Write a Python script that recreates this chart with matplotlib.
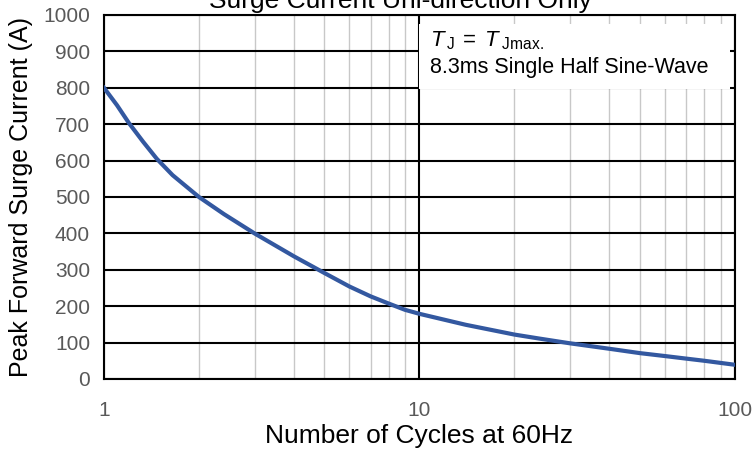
import matplotlib
matplotlib.use("Agg")
import matplotlib.pyplot as plt
from matplotlib.patches import Rectangle
from matplotlib.ticker import FixedLocator, NullFormatter

plt.rcParams['font.family'] = ['Liberation Sans', 'DejaVu Sans']
plt.rcParams['mathtext.fontset'] = 'custom'
plt.rcParams['mathtext.rm'] = 'Liberation Sans'
plt.rcParams['mathtext.it'] = 'Liberation Sans:italic'

# surge current curve
cycles = [1, 1.1, 1.2, 1.33, 1.47, 1.65, 2, 2.4, 3, 4, 5, 6, 7, 8, 9, 10,
          14, 20, 24, 30, 40, 50, 60, 70, 80, 100]
current = [800, 752, 703, 652, 605, 560, 500, 453, 400, 337, 291, 254, 227, 207, 190, 179,
           149, 122, 111, 98, 83, 71, 63, 56, 50, 39]

x_ticks = [1, 10, 100]
x_ticklabels = ['1', '10', '100']
y_ticks = list(range(0, 1001, 100))

fig = plt.figure(figsize=(7.55, 4.5), dpi=100)
ax = fig.add_axes([0.1377, 0.1578, 0.8358, 0.8089])

ax.set_xscale('log')
ax.set_xlim(1, 100)
ax.set_ylim(0, 1000)

minor = [m * d for d in (1, 10) for m in range(2, 10)]
ax.xaxis.set_major_locator(FixedLocator(x_ticks))
ax.xaxis.set_minor_locator(FixedLocator(minor))
ax.xaxis.set_minor_formatter(NullFormatter())
ax.set_xticklabels(x_ticklabels)
ax.set_yticks(y_ticks)

ax.grid(True, which='minor', axis='x', color='#c8c8c8', lw=1.0)
ax.grid(True, which='major', axis='x', color='black', lw=1.5)
ax.grid(True, which='major', axis='y', color='black', lw=1.5)
ax.set_axisbelow(True)

ax.tick_params(which='both', length=0)
ax.tick_params(axis='x', pad=16, labelsize=15, labelcolor='#595959')
ax.tick_params(axis='y', pad=10, labelsize=15, labelcolor='#595959')
for s in ax.spines.values():
    s.set_linewidth(1.5)
    s.set_color('black')

# white text box over the gridlines
ax.add_patch(Rectangle((10, 796), 86.5, 180, facecolor='white', edgecolor='none', zorder=1.5))

ax.plot(cycles, current, color='#3358a0', lw=3, zorder=3, solid_joinstyle='round')

ax.text(10.78, 913, r'$T\,_{\mathrm{J}}\/ =\ T\,_{\mathrm{Jmax.}}$', fontsize=16, va='baseline', zorder=4)
ax.text(10.78, 840, '8.3ms Single Half Sine-Wave', fontsize=15.5, va='baseline', zorder=4)

ax.set_xlabel('Number of Cycles at 60Hz', fontsize=19, labelpad=3)
ax.set_ylabel('Peak Forward Surge Current (A)', fontsize=18, labelpad=7)

fig.text(0.53, 0.982, 'Surge Current Uni-direction Only', fontsize=19, ha='center', va='baseline')

fig.savefig('out.png', dpi=100)
